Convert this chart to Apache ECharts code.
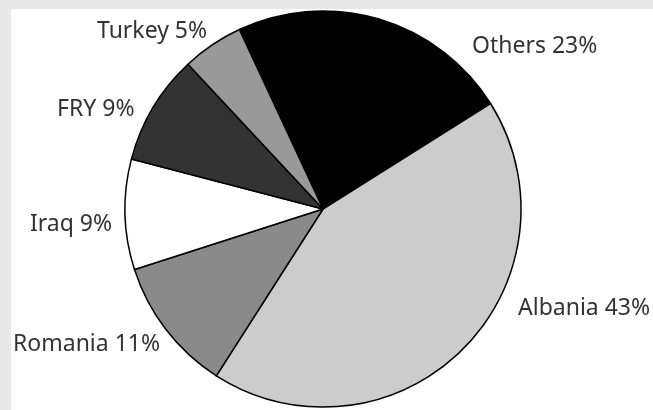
<!DOCTYPE html>
<html>
<head>
<meta charset="utf-8">
<script src="https://cdn.jsdelivr.net/npm/echarts@6/dist/echarts.min.js"></script>
<style>
  html, body { margin: 0; padding: 0; background: #e8e8e8; }
  #panel { position: absolute; left: 11px; top: 9px; width: 642px; height: 401px; background: #ffffff; }
  #chart { position: absolute; left: 0; top: 0; width: 653px; height: 410px; }
</style>
</head>
<body>
<div id="panel"></div>
<div id="chart"></div>
<script>
// Data
const countries = ['Others', 'Albania', 'Romania', 'Iraq', 'FRY', 'Turkey'];
const shares = [23, 43, 11, 9, 9, 5];

// Styling (kept separate from data)
const sliceColors = ['#000000', '#cccccc', '#8a8a8a', '#ffffff', '#333333', '#999999'];
const labelAnchors = [[472, 46], [518, 308], [13, 344], [30, 224], [57, 109], [97, 31]];

const chart = echarts.init(document.getElementById('chart'), null, { renderer: 'canvas' });
chart.setOption({
  backgroundColor: 'transparent',
  animation: false,
  series: [{
    type: 'pie',
    center: [323, 209],
    radius: 198,
    startAngle: 115,
    clockwise: true,
    data: countries.map((c, i) => ({
      name: c,
      value: shares[i],
      itemStyle: { color: sliceColors[i] }
    })),
    itemStyle: { borderColor: '#000', borderWidth: 1.5 },
    label: {
      show: true,
      position: 'outside',
      formatter: p => p.name + ' ' + p.value + '%',
      fontFamily: 'Noto Sans',
      fontSize: 23,
      color: '#333333',
      overflow: 'none',
      width: 200
    },
    labelLine: { show: false },
    labelLayout: function (params) {
      const a = labelAnchors[params.dataIndex];
      return { x: a[0], y: a[1], align: 'left', verticalAlign: 'middle', hideOverlap: false };
    },
    emphasis: { disabled: true }
  }]
});
</script>
</body>
</html>
